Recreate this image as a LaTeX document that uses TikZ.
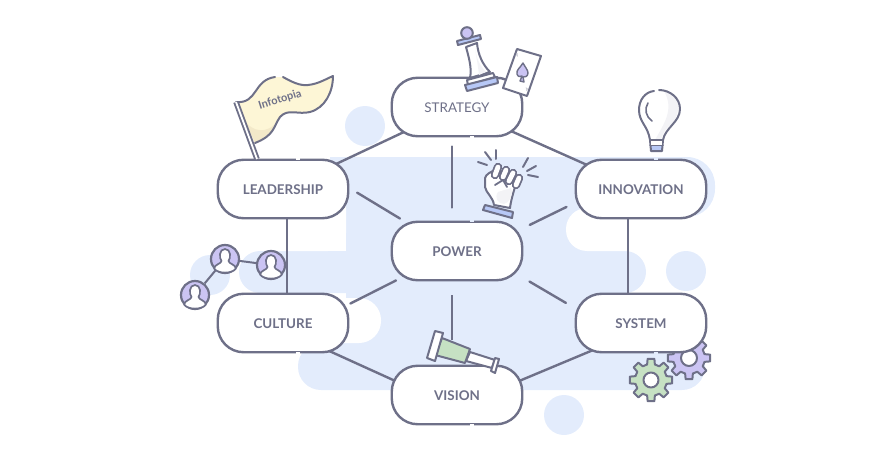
\documentclass[tikz,border=0pt]{standalone}
\usepackage{fontspec}
\setmainfont{Lato}
\usetikzlibrary{backgrounds}
\definecolor{inkc}{HTML}{6E7088}
\definecolor{bgblue}{HTML}{E3ECFC}
\definecolor{capblue}{HTML}{B7C8F6}
\definecolor{lilac}{HTML}{CBC4F3}
\definecolor{leaf}{HTML}{C6E1C3}
\definecolor{flagc}{HTML}{FDF6D6}
\definecolor{flagd}{HTML}{F3E9C9}
\definecolor{glare}{HTML}{F3F3F6}
\tikzset{
	hub/.style={draw=inkc, fill=white, line width=2.4pt, rounded corners=26pt, minimum width=130.5pt, minimum height=58.5pt, inner sep=0pt, text=inkc, text height=11.5pt, text depth=0pt, font=\fontsize{13.4}{15}\selectfont\bfseries},
	link/.style={draw=inkc, line width=2.4pt},
	icon/.style={draw=inkc, line width=2pt, line join=round, line cap=round},
	user/.style={circle, draw=inkc, fill=lilac, line width=2.2pt, minimum size=28pt, inner sep=0pt},
}
\begin{document}
\begin{tikzpicture}[x=1pt, y=-1pt, line join=round, line cap=round]
	\useasboundingbox (0,0) rectangle (895,463);

	% Hop chu nhat bo tron
	\node[hub] (strategy) at (457,107) {\mdseries STRATEGY};
	\node[hub] (leadership) at (283,189) {LEADERSHIP};
	\node[hub] (innovation) at (641,189) {INNOVATION};
	\node[hub] (power) at (457,251) {POWER};
	\node[hub] (culture) at (283,323) {CULTURE};
	\node[hub] (system) at (641,323) {SYSTEM};
	\node[hub] (vision) at (457,395) {VISION};

	\begin{scope}[on background layer]
		% Mang nen xanh
		\fill[bgblue] (330,157) rectangle (600,217);
		\fill[bgblue, rounded corners=28pt] (500,157) rectangle (715,217);
		\fill[bgblue] (346,200) rectangle (600,360);
		\fill[bgblue, rounded corners=21pt] (239,251) rectangle (646,293);
		\fill[bgblue, rounded corners=23pt] (298,343) rectangle (705,390);
		\fill[white, rounded corners=18pt] (250,190) rectangle (346,251);
		\fill[white, rounded corners=21pt] (566,208) rectangle (700,251);
		\fill[white, rounded corners=22pt] (300,298) rectangle (381,343);
		\foreach \x/\y in {365/126, 210/275, 686/271, 564/415}
			\fill[bgblue] (\x,\y) circle (20pt);

		% Duong noi
		\draw[link] (strategy.center) -- (leadership.center);
		\draw[link] (strategy.center) -- (innovation.center);
		\draw[link] ([xshift=4pt]leadership.south) -- ([xshift=4pt]culture.north);
		\draw[link] ([xshift=-13pt]innovation.south) -- ([xshift=-13pt]system.north);
		\draw[link] ([yshift=-7pt]culture.center) -- ([yshift=-14pt]vision.center);
		\draw[link] ([yshift=-7pt]system.center) -- ([yshift=-12pt]vision.center);
		\draw[link, shorten <=14pt, shorten >=25pt] ([xshift=-5pt]power.south) -- ([xshift=-5pt]vision.north);

		% Banh rang tim
		\draw[icon, fill=lilac, shift={(689,358)}]
			(-14:16) \foreach \a in {0,45,...,315} {
				-- ({\a-14}:16) -- ({\a-9}:21.5) -- ({\a+9}:21.5) -- ({\a+14}:16)
			} -- cycle;
		\draw[icon, fill=white] (689,358) circle (8pt);
	\end{scope}

	\draw[link, shorten <=9pt, shorten >=13pt] ([xshift=-5pt]strategy.south) -- ([xshift=-5pt]power.north);
	\draw[link, shorten <=9pt] ([yshift=1pt]leadership.east) -- ([xshift=-57pt,yshift=2pt]power.north);
	\draw[link, shorten <=9pt, shorten >=7pt] ([yshift=-14pt]innovation.west) -- ([yshift=23pt]power.east);
	\draw[link, shorten <=1pt] ([yshift=19pt]culture.east) -- ([xshift=-61pt,yshift=1pt]power.south);
	\draw[link, shorten <=10pt, shorten >=7pt] ([yshift=15pt]system.west) -- ([yshift=-27pt]power.east);

	% Khe ho tren vien hop
	\foreach \n/\a/\c in {strategy/south/white, leadership/north/white, innovation/north/bgblue, power/north/bgblue, culture/south/white, system/south/bgblue, vision/south/white}
		\draw[\c, line width=3.4pt, line cap=butt] ([xshift=13pt]\n.\a) -- ([xshift=17pt]\n.\a);

	% Co
	\fill[flagc] (236,102) .. controls (258,104) and (253,80) .. (275,77) -- (283,77) .. controls (292,82) and (300,86) .. (308,85) .. controls (318,84) and (326,79) .. (333,76) .. controls (333,92) and (325,108) .. (310,112) .. controls (298,115) and (288,108) .. (280,117) .. controls (273,127) and (275,135) .. (255,143) -- cycle;
	\fill[flagd] (243,117) .. controls (247,128) and (262,136) .. (274,125) .. controls (272,133) and (266,139) .. (255,143) -- cycle;
	\draw[icon] (236,102) .. controls (258,104) and (253,80) .. (275,77);
	\draw[icon] (283,77) .. controls (292,82) and (300,86) .. (308,85) .. controls (318,84) and (326,79) .. (333,76) .. controls (333,92) and (325,108) .. (310,112) .. controls (298,115) and (288,108) .. (280,117) .. controls (273,127) and (275,135) .. (255,143);
	\draw[inkc, line width=1.9pt, double=white, double distance=1.8pt, line cap=butt] (236,102) -- (257,159);
	\draw[white, line width=1.6pt, line cap=butt] (244,136) -- (245,139);
	\node[rotate=17.5, text=inkc, font=\fontsize{11}{13}\selectfont\bfseries] (flagtext) at (280,100) {Infotopia};

	% Con tot
	\draw[icon, fill=white] (466,47) -- (477,43) .. controls (478,55) and (483,65) .. (490,72) -- (470,78) .. controls (472,68) and (469,58) .. (466,47) -- cycle;
	\fill[glare] (475,47) .. controls (476,58) and (480,66) .. (486,72) -- (479,75) .. controls (478,65) and (476,56) .. cycle;
	\draw[icon, fill=white] (467,80) -- (493,73) -- (495,77) -- (468,85) -- cycle;
	\draw[icon, fill=capblue] (465,85) -- (497,77) -- (498,83) -- (467,91) -- cycle;
	\draw[icon, fill=capblue] (457,41) -- (480,35) -- (481,39) -- (458,45) -- cycle;
	\draw[icon, fill=lilac] (467,33) circle (5.8pt);

	% La bai
	\draw[icon, fill=white] (517,49) -- (541,56) -- (527,96) -- (503,88) -- cycle;
	\node[rotate=-16, text=inkc!60, font=\fontsize{4.5}{5}\selectfont] (cardtop) at (517,55) {A};
	\node[rotate=164, text=inkc!60, font=\fontsize{4.5}{5}\selectfont] (cardbot) at (527,90) {A};
	\draw[icon, fill=lilac, line width=1.4pt] (523,63) .. controls (520,68) and (516,70) .. (517,74) .. controls (518,77) and (520,77) .. (522,76) -- (520,81) -- (524,82) -- (523,77) .. controls (525,78) and (528,76) .. (528,73) .. controls (528,70) and (525,67) .. (523,63) -- cycle;

	% Nam tay
	\foreach \x/\y/\u/\v in {478/162/487/165, 485/152/491/160, 496/150/496/159, 528/158/523/167, 536/166/527/171, 538/177/528/175}
		\draw[icon] (\x,\y) -- (\u,\v);
	\draw[icon, fill=white] (494,205) .. controls (493,197) and (486,193) .. (485,187) -- (485,178) .. controls (486,174) and (491,172) .. (495,170) -- (519,180) -- (515,187) .. controls (513,194) and (511,200) .. (510,208) -- cycle;
	\fill[glare] (511,188) .. controls (514,195) and (509,203) .. (504,204) .. controls (498,204) and (494,198) .. (498,192) -- cycle;
	\foreach \x/\y/\u/\v in {498/167/495/175, 506/170/503/177, 513/173/509/181, 519/178/516/185}
		\draw[inkc, line width=1.8pt, double=white, double distance=4.8pt, line cap=round] (\x,\y) -- (\u,\v);
	\draw[icon, line width=1.8pt] (495,185) -- (503,180) -- (507,187);
	\draw[icon, fill=capblue] (485,205) -- (513,212) -- (512,218) -- (483,210) -- cycle;

	% Bong den
	\fill[glare] (664,91) .. controls (682,92) and (682,118) .. (668,127) .. controls (664,131) and (662,136) .. (661,140) -- (655,140) .. controls (663,125) and (675,110) .. (664,91) -- cycle;
	\draw[icon] (654,91) .. controls (645,92) and (639,100) .. (639,110) .. controls (639,122) and (648,126) .. (650,140) -- (663,140) .. controls (665,128) and (680,122) .. (680,109) .. controls (680,98) and (670,90) .. (659,90);
	\draw[icon, line width=1.6pt] (648,103) .. controls (644,109) and (646,117) .. (652,121);
	\draw[icon, fill=capblue] (650,140) -- (663,140) -- (662,151) -- (651,151) -- cycle;
	\fill[white] (651,141) rectangle (662,145);
	\draw[icon, line width=1.5pt] (650,145.5) -- (663,145.5);

	% Nhom nguoi
	\node[user] (userb) at (225,259) {};
	\node[user] (userc) at (271,265) {};
	\node[user] (usera) at (195,295) {};
	\begin{scope}[on background layer]
		\draw[link, line width=2pt] (usera) -- (userb);
		\draw[link, line width=2pt] (userb) -- (userc);
	\end{scope}
	\foreach \n in {usera,userb,userc}
		\draw[icon, fill=white, line width=1.7pt, shift={(\n)}] (-3.5,2) .. controls (-6,-1) and (-6,-10) .. (0,-10) .. controls (6,-10) and (6,-1) .. (3.5,2) .. controls (4,5) and (10,5) .. (11,9.5) .. controls (7,15) and (-7,15) .. (-11,9.5) .. controls (-10,5) and (-4,5) .. (-3.5,2) -- cycle;

	% Ong nhom
	\draw[icon, fill=leaf] (442,338) -- (470,349) -- (465,363) -- (435,355) -- cycle;
	\draw[icon, fill=white] (470,352) -- (495,360) -- (492,368) -- (466,361) -- cycle;
	\draw[icon, fill=white] (435,331) -- (443,333) -- (435,361) -- (427,358) -- cycle;
	\draw[icon, fill=white] (495,358) -- (499,359) -- (495,373) -- (491,371) -- cycle;

	% Banh rang xanh
	\draw[icon, fill=leaf, shift={(651,380)}]
		(-14:16) \foreach \a in {0,45,...,315} {
			-- ({\a-14}:16) -- ({\a-9}:21.5) -- ({\a+9}:21.5) -- ({\a+14}:16)
		} -- cycle;
	\draw[icon, fill=white] (651,380) circle (7.5pt);
\end{tikzpicture}
\end{document}
